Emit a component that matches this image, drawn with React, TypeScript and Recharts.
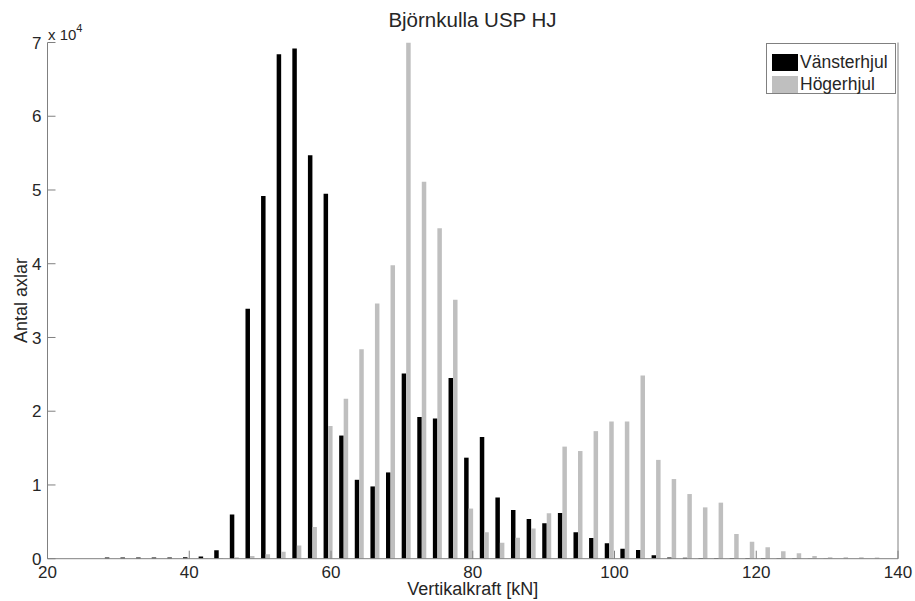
import { BarChart, Bar, XAxis, YAxis, Legend, Label } from "recharts";

// bin centres (kN) and counts per bin
const binCenters = [
  28.77, 30.97, 33.18, 35.38, 37.59, 39.79, 42.0, 44.2, 46.4, 48.61,
  50.81, 53.01, 55.22, 57.42, 59.63, 61.83, 64.03, 66.24, 68.44, 70.65,
  72.85, 75.05, 77.26, 79.46, 81.67, 83.87, 86.07, 88.28, 90.48, 92.69,
  94.89, 97.09, 99.3, 101.5, 103.71, 105.91, 108.11, 110.32, 112.52, 114.73,
  116.93, 119.13, 121.34, 123.54, 125.75, 127.95, 130.15, 132.36, 134.56, 136.77,
];

const leftWheel = [
  150, 150, 150, 150, 150, 200, 300, 1150, 6000, 33900,
  49200, 68400, 69200, 54700, 49500, 16700, 10700, 9800, 11700, 25100,
  19200, 19000, 24500, 13700, 16500, 8300, 6600, 5400, 4800, 6200,
  3600, 2800, 2100, 1350, 1180, 460, 150, 120, 100, 100,
  80, 100, 80, 60, 50, 30, 20, 10, 10, 0,
];

const rightWheel = [
  0, 0, 0, 0, 0, 0, 50, 80, 200, 370,
  600, 950, 1800, 4300, 18000, 21700, 28400, 34600, 39800, 70000,
  51100, 44800, 35100, 6800, 3600, 2170, 2850, 4100, 6150, 15200,
  14600, 17300, 18600, 18600, 24850, 13400, 10800, 8770, 6960, 7600,
  3350, 2300, 1550, 1000, 730, 370, 200, 200, 200, 150,
];

const seriesOrder = ["left", "right"];
const xTicks = [20, 40, 60, 80, 100, 120, 140];
const yTicks = [0, 10000, 20000, 30000, 40000, 50000, 60000, 70000];

const data = binCenters.map((x, i) => ({ x, left: leftWheel[i], right: rightWheel[i] }));

const AXIS = "#808080";
const TEXT = "#262626";
const FONT = '"Liberation Sans", Arial, sans-serif';

function LegendBox({ payload }: any) {
  const items = [...(payload || [])].sort(
    (a: any, b: any) => seriesOrder.indexOf(a.dataKey) - seriesOrder.indexOf(b.dataKey)
  );
  return (
    <div style={{ border: `1px solid ${AXIS}`, background: "#fff", width: 130, height: 51, padding: "7px 0 0 5px", boxSizing: "border-box" }}>
      {items.map((p: any) => (
        <div key={p.value} style={{ display: "flex", alignItems: "center", height: 22 }}>
          <span style={{ width: 26, height: 17, background: p.color, marginRight: 2, display: "inline-block" }} />
          <span style={{ fontSize: 17.5, color: TEXT, fontFamily: FONT, lineHeight: "18px" }}>{p.value}</span>
        </div>
      ))}
    </div>
  );
}

export default function App() {
  return (
    <div style={{ position: "absolute", left: 0, top: 0, width: 915, height: 601, background: "#fff", fontFamily: FONT }}>
      <BarChart width={915} height={601} data={data} margin={{ top: 42.5, right: 0, bottom: 0, left: 0 }} barGap={0}>
        <XAxis
          dataKey="x" type="number" domain={[20, 140]} ticks={xTicks} allowDataOverflow
          height={42.3} tickSize={-8} tickMargin={15}
          axisLine={{ stroke: AXIS }} tickLine={{ stroke: AXIS }}
          tick={{ fontSize: 17, fill: TEXT, fontFamily: FONT }}
        >
          <Label value="Vertikalkraft [kN]" position="insideBottom" offset={6} style={{ fontSize: 18, fill: TEXT, fontFamily: FONT }} />
        </XAxis>
        <XAxis
          xAxisId="top" orientation="top" type="number" domain={[20, 140]} ticks={xTicks} allowDataOverflow
          height={0} tickSize={-8} tick={false}
          axisLine={{ stroke: AXIS }} tickLine={{ stroke: AXIS }}
        />
        <YAxis
          domain={[0, 70000]} ticks={yTicks} allowDataOverflow width={47.5}
          tickSize={-8} tickMargin={14}
          tickFormatter={(v: number) => String(v / 10000)}
          axisLine={{ stroke: AXIS }} tickLine={{ stroke: AXIS }}
          tick={{ fontSize: 17, fill: TEXT, fontFamily: FONT }}
        >
          <Label value="Antal axlar" angle={-90} position="center" dx={-3} style={{ fontSize: 18, fill: TEXT, fontFamily: FONT }} />
          <Label
            content={() => (
              <text x={48} y={40} fontSize={15} fill={TEXT} fontFamily={FONT}>
                x 10<tspan dy={-8} fontSize={11}>4</tspan>
              </text>
            )}
          />
          <Label
            content={() => (
              <text x={472.5} y={27} fontSize={20.5} fill={TEXT} fontFamily={FONT} textAnchor="middle">
                Björnkulla USP HJ
              </text>
            )}
          />
        </YAxis>
        <YAxis
          yAxisId="right" orientation="right" domain={[0, 70000]} ticks={yTicks} allowDataOverflow width={17}
          tickSize={-8} tick={false}
          axisLine={{ stroke: AXIS }} tickLine={{ stroke: AXIS }}
        />
        <Legend
          layout="horizontal" verticalAlign="middle" align="center"
          content={<LegendBox />}
          wrapperStyle={{ position: "absolute", left: 766, top: 43, width: 130, height: 51 }}
        />
        <Bar dataKey="left" name="Vänsterhjul" fill="#000000" barSize={4.5} isAnimationActive={false} />
        <Bar dataKey="right" name="Högerhjul" fill="#bfbfbf" barSize={4.5} isAnimationActive={false} />
      </BarChart>
    </div>
  );
}
